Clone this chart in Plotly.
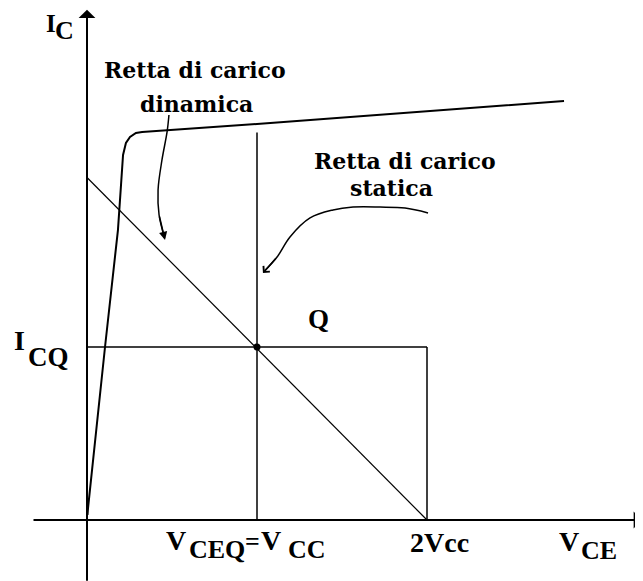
import plotly.graph_objects as go

# ---- data (x in units of Vcc, y in units of ICQ) ----
VCEQ = 1.0
ICQ = 1.0
V2CC = 2.0
q_vert_top = 2.24
load_x = [0.0, 2.0]
load_y = [1.98, 0.0]
char_x = [0.003, 0.006, 0.106, 0.182, 0.200, 0.212, 0.229, 0.253, 0.288, 0.324, 1.0, 2.806]
char_y = [0.03, 0.069, 1.0, 1.676, 1.936, 2.110, 2.179, 2.214, 2.237, 2.243, 2.289, 2.422]
dyn_x = [0.482, 0.471, 0.441, 0.418, 0.424, 0.453]
dyn_y = [2.341, 2.243, 2.081, 1.908, 1.763, 1.642]
stat_x = [2.006, 1.871, 1.724, 1.565, 1.447, 1.312, 1.194, 1.118, 1.045]
stat_y = [1.775, 1.803, 1.809, 1.809, 1.792, 1.746, 1.636, 1.520, 1.440]
x_axis_span = [-0.3235, 3.265]
y_axis_span = [-0.36, 2.95]

K = "black"
fig = go.Figure()

def line(x, y, w, shape="linear"):
    fig.add_trace(go.Scatter(x=x, y=y, mode="lines", line=dict(color=K, width=w, shape=shape),
                             hoverinfo="skip", showlegend=False))

line(load_x, load_y, 1.2)
line([0, V2CC], [ICQ, ICQ], 1.5)
line([V2CC, V2CC], [ICQ, 0], 1.5)
line([VCEQ, VCEQ], [0, q_vert_top], 1.5)
line(char_x, char_y, 2)
line(dyn_x, dyn_y, 1.5, "spline")
line(stat_x, stat_y, 1.5, "spline")
fig.add_trace(go.Scatter(x=[VCEQ], y=[ICQ], mode="markers", marker=dict(color=K, size=7),
                         hoverinfo="skip", showlegend=False))

ann = []
def arrow(x, y, ax, ay, head, size, w):
    ann.append(dict(x=x, y=y, ax=ax, ay=ay, xref="x", yref="y", axref="x", ayref="y",
                    text="", showarrow=True, arrowhead=head, arrowsize=size, arrowwidth=w,
                    arrowcolor=K))

# axes
arrow(0, y_axis_span[1], 0, y_axis_span[0], 1, 1.4, 2)
arrow(x_axis_span[1], 0, x_axis_span[0], 0, 1, 1.4, 2)
# pointer arrow heads
arrow(0.459, 1.618, dyn_x[-2], dyn_y[-2], 2, 1.1, 1.5)
arrow(1.035, 1.428, stat_x[-2], stat_y[-2], 4, 1.1, 1.5)

SERIF_B = "DejaVu Serif"
TIMES = "Liberation Serif"
def label(t, x, y, fam, size, bold, xanchor="left"):
    ann.append(dict(x=x, y=y, xref="x", yref="y", text=t, showarrow=False,
                    xanchor=xanchor, yanchor="middle",
                    font=dict(family=fam, size=size, color=K, weight="bold" if bold else "normal")))

label("Retta di carico", 0.635, 2.601, SERIF_B, 22, True, "center")
label("dinamica", 0.647, 2.405, SERIF_B, 22, True, "center")
label("Retta di carico", 1.871, 2.075, SERIF_B, 22, True, "center")
label("statica", 1.794, 1.920, SERIF_B, 22, True, "center")
label("Q", 1.359, 1.162, TIMES, 27, True, "center")
label("2Vcc", 2.076, -0.130, TIMES, 28, True, "center")

label("I", -0.255, 2.872, TIMES, 25, True)
label("C", -0.198, 2.830, TIMES, 26, True)
label("I", -0.44, 1.035, TIMES, 28, True)
label("CQ", -0.36, 0.942, TIMES, 27, True)
label("V", 0.455, -0.121, TIMES, 28, True)
label("CEQ", 0.59, -0.168, TIMES, 26, True)
label("=", 0.915, -0.127, TIMES, 26, True)
label("V", 1.012, -0.121, TIMES, 28, True)
label("CC", 1.168, -0.168, TIMES, 26, True)
label("V", 2.765, -0.127, TIMES, 28, True)
label("CE", 2.895, -0.179, TIMES, 26, True)

# the page body has an 8px margin: size the figure to the remaining window
fig.update_layout(
    width=635, height=573, margin=dict(l=0, r=0, t=0, b=0),
    paper_bgcolor="white", plot_bgcolor="white", annotations=ann,
    xaxis=dict(range=[-79/170, 556/170], visible=False, fixedrange=True),
    yaxis=dict(range=[-61/173, 512/173], visible=False, fixedrange=True),
)
fig.write_html("out.html")
